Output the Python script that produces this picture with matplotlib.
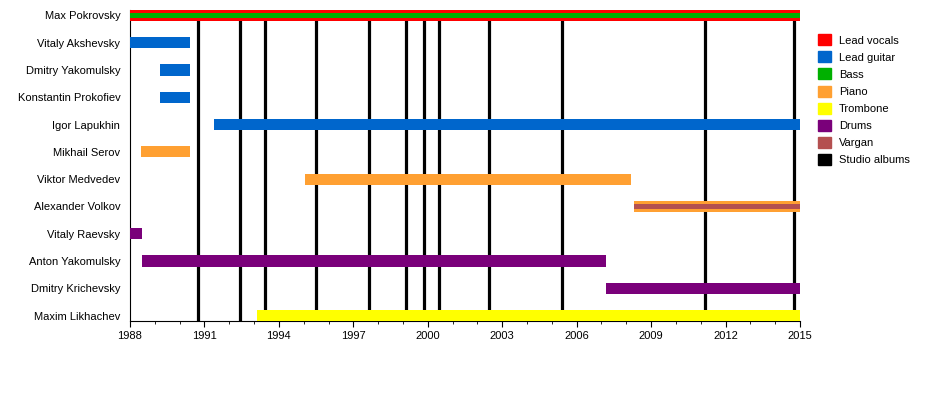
import matplotlib.pyplot as plt
from matplotlib.patches import Patch

members = ["Max Pokrovsky", "Vitaly Akshevsky", "Dmitry Yakomulsky",
           "Konstantin Prokofiev", "Igor Lapukhin", "Mikhail Serov",
           "Viktor Medvedev", "Alexander Volkov", "Vitaly Raevsky",
           "Anton Yakomulsky", "Dmitry Krichevsky", "Maxim Likhachev"]
starts = [1988.0, 1988.0, 1989.2, 1989.2, 1991.4, 1988.45,
          1995.05, 2008.3, 1988.0, 1988.48, 2007.2, 1993.1]
ends = [2015, 1990.42, 1990.42, 1990.42, 2015, 1990.42,
        2008.2, 2015, 1988.48, 2007.2, 2015, 2015]
roles = ["Lead vocals", "Lead guitar", "Lead guitar", "Lead guitar",
         "Lead guitar", "Piano", "Piano", "Piano", "Drums", "Drums",
         "Drums", "Trombone"]
# second instrument drawn as a thin stripe inside the main bar
second = {"Max Pokrovsky": "Bass", "Alexander Volkov": "Vargan"}

albums = [1990.75, 1992.43, 1993.44, 1995.5, 1997.63, 1999.12,
          1999.85, 2000.45, 2002.47, 2005.41, 2011.18, 2014.76]

colors = {"Lead vocals": "#ff0000", "Lead guitar": "#0066cc",
          "Bass": "#00b000", "Piano": "#ffa032", "Trombone": "#ffff00",
          "Drums": "#7a007a", "Vargan": "#b45050", "Studio albums": "#000000"}

plt.rcParams['font.family'] = ['Liberation Sans', 'DejaVu Sans']

fig = plt.figure(figsize=(9.5, 4), dpi=100)
ax = fig.add_axes([130 / 950, 1 - 321 / 400, 670 / 950, 311 / 400])

for i, name in enumerate(members):
    ax.barh(i, ends[i] - starts[i], left=starts[i], height=0.41,
            color=colors[roles[i]], zorder=3)
    if name in second:
        ax.barh(i, ends[i] - starts[i], left=starts[i], height=0.16,
                color=colors[second[name]], zorder=4)

for a in albums:
    ax.axvline(a, color="black", lw=2.3, zorder=2)

ax.set_xlim(1988, 2015)
ax.set_ylim(11.2, -0.2)
ax.set_yticks(range(len(members)))
ax.set_yticklabels(members, fontsize=8)
ax.tick_params(axis="y", length=0, pad=7)
ax.set_xticks(range(1988, 2016, 3))
ax.set_xticks(range(1988, 2016), minor=True)
ax.tick_params(axis="x", labelsize=8, length=4, width=0.8)
ax.tick_params(axis="x", which="minor", length=2, width=0.6)
for s in ["top", "right"]:
    ax.spines[s].set_visible(False)

handles = [Patch(color=c, label=k) for k, c in colors.items()]
fig.legend(handles=handles, loc="upper left", bbox_to_anchor=(0.855, 0.928),
           frameon=False, fontsize=8, handlelength=1.15, handleheight=1.15,
           handletextpad=0.75, labelspacing=0.52, borderpad=0)

fig.savefig("out.png", dpi=100)
